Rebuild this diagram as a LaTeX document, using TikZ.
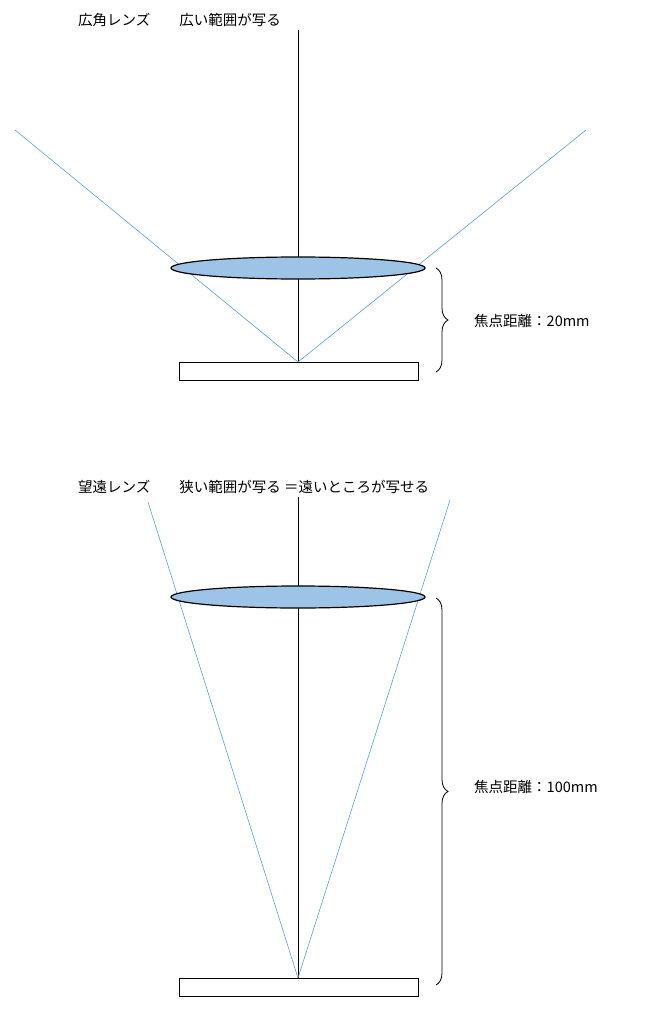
\documentclass[tikz,border=0pt]{standalone}
\usepackage{fontspec}
\newfontfamily\jp{Noto Sans CJK JP}
\usetikzlibrary{decorations.pathreplacing}
\definecolor{lensblue}{HTML}{9DC3E6}
\definecolor{ray}{HTML}{5B9BD5}
\tikzset{
  rayline/.style={draw=ray, line width=0.6pt},
  axis/.style={draw=black, line width=0.9pt},
  lens/.style={draw=black, fill=lensblue, line width=1.2pt},
  sensor/.style={draw=black, fill=white, line width=1pt},
  lbl/.style={font=\jp\fontsize{14.5pt}{17pt}\selectfont, anchor=west, inner sep=0pt},
  br/.style={decorate, decoration={brace, amplitude=12pt}, line width=0.8pt}
}
\begin{document}
\begin{tikzpicture}[x=1pt,y=-1pt]
\useasboundingbox (0,0) rectangle (648,1024);
% top
\coordinate (t0) at (298,30);
\coordinate (tf) at (298,362);
\coordinate (tl) at (15,130);
\coordinate (tr) at (586,130);
\draw[axis] (t0) -- (tf);
\draw[rayline] (tl) -- (tf) -- (tr);
\draw[lens] (298,268) ellipse [x radius=127, y radius=11];
\draw[sensor] (179,362) rectangle (418,380);
\coordinate (tb1) at (436,268);
\coordinate (tb2) at (436,372);
\draw[br] (tb1) -- (tb2);
\node[lbl] (tlab) at (474,321) {焦点距離：20mm};
\node[lbl] (ttitle) at (78,20) {広角レンズ\hspace{2em}広い範囲が写る};
% bottom
\coordinate (b0) at (298,497);
\coordinate (bf) at (298,978);
\coordinate (bl) at (148,502);
\coordinate (brr) at (450,500);
\draw[axis] (b0) -- (bf);
\draw[rayline] (bl) -- (bf) -- (brr);
\draw[lens] (298,597) ellipse [x radius=127, y radius=11];
\draw[sensor] (179,978) rectangle (418,996);
\coordinate (bb1) at (436,598);
\coordinate (bb2) at (436,985);
\draw[br] (bb1) -- (bb2);
\node[lbl] (blab) at (474,787) {焦点距離：100mm};
\node[lbl] (btitle) at (78,487) {望遠レンズ\hspace{2em}狭い範囲が写る ＝遠いところが写せる};
\end{tikzpicture}
\end{document}
